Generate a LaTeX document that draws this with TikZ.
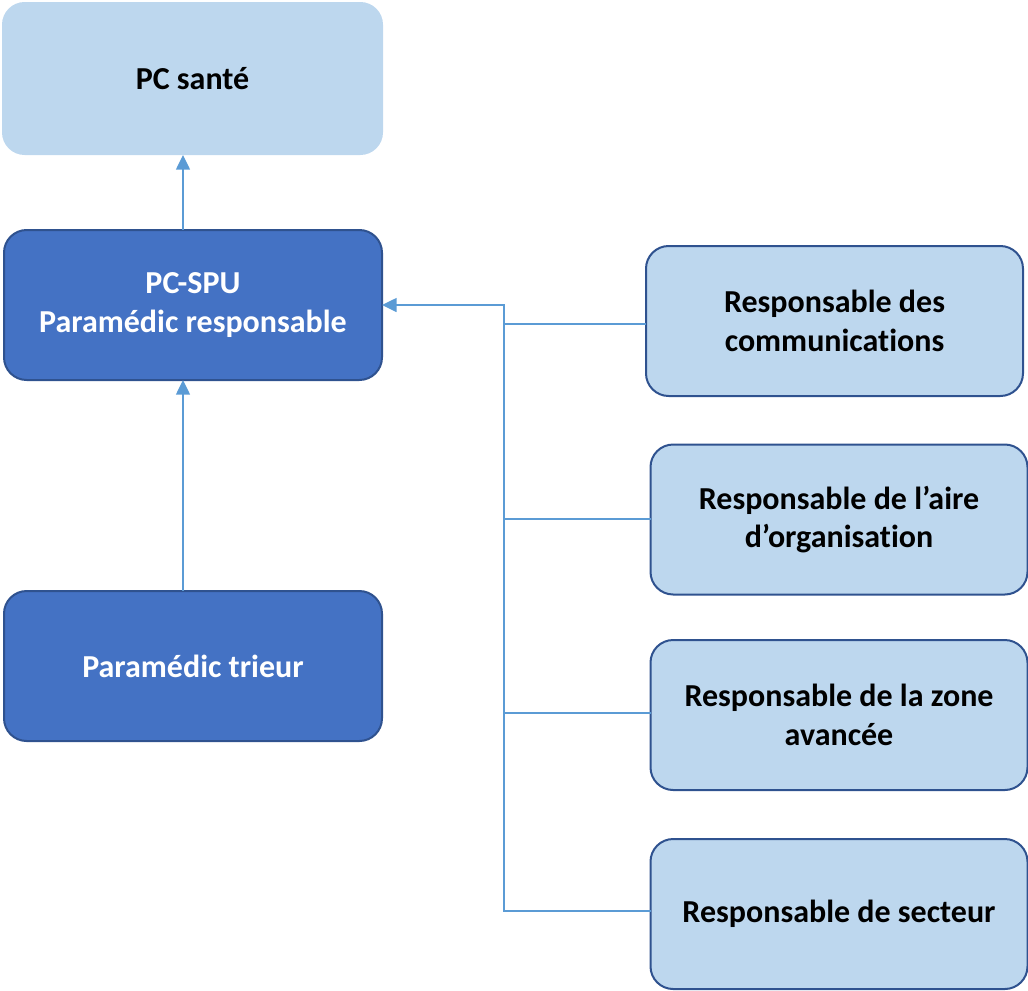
\documentclass[tikz,border=0pt]{standalone}
\usepackage{fontspec}
\setmainfont[Ligatures={NoCommon}]{Carlito}
\usetikzlibrary{arrows.meta}
\definecolor{lightbox}{HTML}{BDD7EE}
\definecolor{darkbox}{HTML}{4472C4}
\definecolor{boxline}{HTML}{2F528F}
\definecolor{conncol}{HTML}{5B9BD5}
\tikzset{
  base/.style={rounded corners=17pt, align=center, inner sep=0pt, outer sep=0pt,
    font=\fontsize{24}{29}\selectfont\bfseries},
  topbox/.style={base, fill=lightbox, minimum width=381*0.75pt, minimum height=153*0.75pt},
  darkbox/.style={base, fill=darkbox, draw=boxline, line width=1.5pt, text=white,
    minimum width=378*0.75pt, minimum height=150*0.75pt},
  rightbox/.style={base, fill=lightbox, draw=boxline, line width=1.5pt, text=black,
    minimum width=377*0.75pt, minimum height=150*0.75pt},
  conn/.style={draw=conncol, line width=1.1pt},
  arr/.style={conn, -{Triangle[length=11pt, width=10.5pt]}}
}
\begin{document}
\begin{tikzpicture}[x=0.75pt, y=-0.75pt]
\useasboundingbox (0,0) rectangle (1028,990);
\node[topbox] (pcs) at (192.5,78.5) {PC santé};
\node[darkbox] (spu) at (193,305) {PC-SPU\\Paramédic responsable};
\node[darkbox] (tri) at (193,666) {Paramédic trieur};
\node[rightbox] (com) at (834.5,321) {Responsable des\\communications};
\node[rightbox] (air) at (839,519.5) {Responsable de l’aire\\d’organisation};
\node[rightbox] (zon) at (839,715) {Responsable de la zone\\avancée};
\node[rightbox] (sec) at (839,914) {Responsable de secteur};
\coordinate (b1) at (504,305);
\coordinate (b4) at (504,911);
\draw[arr] (spu.north -| 183,0) -- (pcs.south -| 183,0);
\draw[arr] (tri.north -| 183,0) -- (spu.south -| 183,0);
\draw[arr] (sec.west |- b4) -- (b4) -- (b1) -- (spu.east |- b1);
\draw[conn] (com.west |- 0,324) -- (b1 |- 0,324);
\draw[conn] (air.west |- 0,519) -- (b1 |- 0,519);
\draw[conn] (zon.west |- 0,713) -- (b1 |- 0,713);
\end{tikzpicture}
\end{document}
